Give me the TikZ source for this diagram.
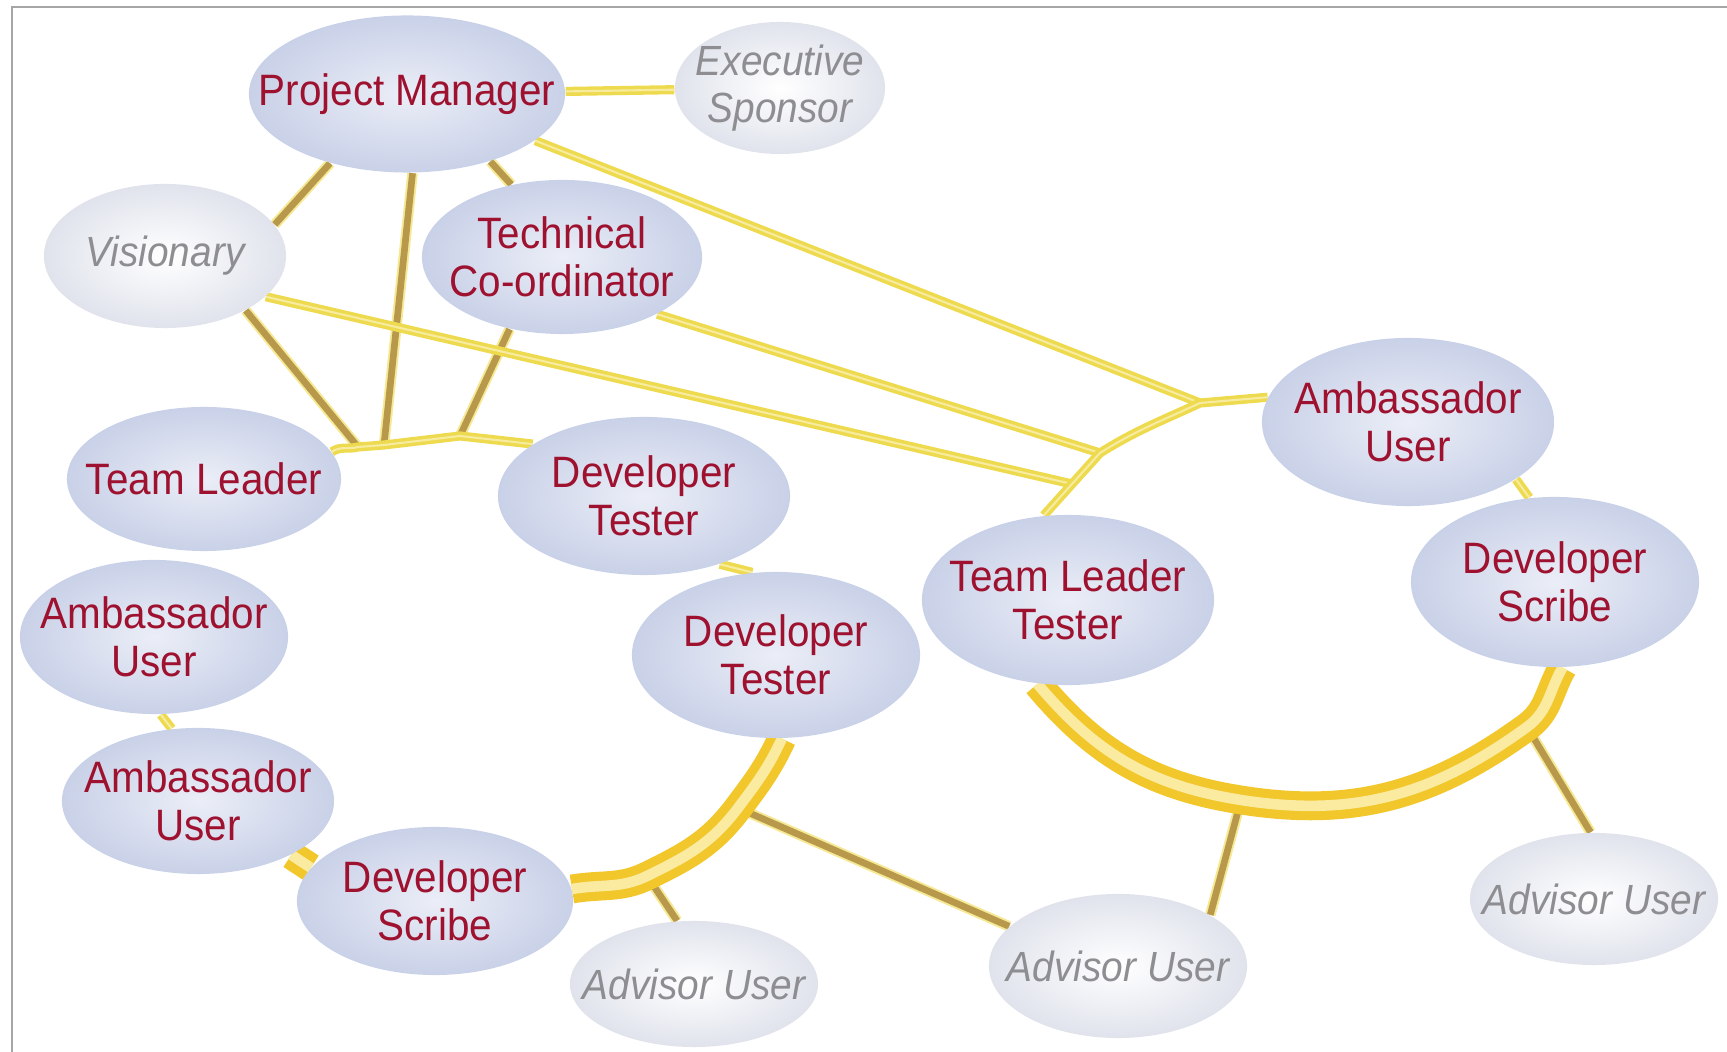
\documentclass[tikz,border=0pt]{standalone}
\usepackage{fontspec}
\setmainfont{Liberation Sans}[FakeStretch=0.92]
\usetikzlibrary{shapes.geometric,backgrounds}

\definecolor{rolered}{HTML}{9E1230}
\definecolor{rolegray}{HTML}{8E8E92}
\definecolor{bubblein}{HTML}{EBEEF7}
\definecolor{bubbleout}{HTML}{C9D1E8}
\definecolor{paleout}{HTML}{E0E3EC}
\definecolor{linkyellow}{HTML}{EEDA4E}
\definecolor{linktan}{HTML}{B8984A}
\definecolor{ringgold}{HTML}{F2C72C}
\definecolor{ringlight}{HTML}{FBEBA0}

\tikzset{
  bubble/.style 2 args={ellipse, minimum width=#1cm, minimum height=#2cm, inner sep=0pt,
    shading=radial, inner color=bubblein, outer color=bubbleout},
  palebubble/.style 2 args={bubble={#1}{#2}, inner color=white, outer color=paleout},
  roletext/.style={text=rolered, align=center, font=\fontsize{12.5}{13.5}\selectfont},
  guesttext/.style={text=rolegray, align=center, font=\itshape\fontsize{12}{13.5}\selectfont},
  link/.style={draw=linkyellow, line width=1pt, double=linkyellow!55, double distance=0.6pt},
  spoke/.style={draw=linktan, line width=1.9pt, preaction={draw=linkyellow!60, line width=3pt}},
  ring/.style={draw=ringgold, line width=2.6pt, double=ringlight, double distance=3pt},
}

\begin{document}
\begin{tikzpicture}[x=0.01cm, y=0.01cm]
  \useasboundingbox (0,0) rectangle (1727,1052);
  \draw[gray!70, line width=0.6pt] (12,0) -- (12,1045) -- (1727,1045);

  % roles
  \node[bubble={3.16}{1.57}, label={[roletext, name=pm-t]center:Project Manager}] (pm) at (407,958) {};
  \node[palebubble={2.10}{1.32}, label={[guesttext, name=exs-t]center:Executive\\Sponsor}] (exs) at (780,964) {};
  \node[palebubble={2.42}{1.44}, label={[guesttext, name=vis-t]center:Visionary}] (vis) at (165,796) {};
  \node[bubble={2.80}{1.54}, label={[roletext, name=tco-t]center:Technical\\Co-ordinator}] (tco) at (562,795) {};
  \node[bubble={2.74}{1.44}, label={[roletext, name=tll-t]center:Team Leader}] (tll) at (204,573) {};
  \node[bubble={2.92}{1.58}, label={[roletext, name=dt1-t]center:Developer\\Tester}] (dt1) at (644,556) {};
  \node[bubble={2.68}{1.54}, label={[roletext, name=au1-t]center:Ambassador\\User}] (au1) at (154,415) {};
  \node[bubble={2.88}{1.66}, label={[roletext, name=dt2-t]center:Developer\\Tester}] (dt2) at (776,397) {};
  \node[bubble={2.72}{1.46}, label={[roletext, name=au2-t]center:Ambassador\\User}] (au2) at (198,251) {};
  \node[bubble={2.76}{1.48}, label={[roletext, name=ds1-t]center:Developer\\Scribe}] (ds1) at (435,151) {};
  \node[palebubble={2.48}{1.26}, label={[guesttext, name=ad1-t]center:Advisor User}] (ad1) at (694,68) {};
  \node[palebubble={2.58}{1.44}, label={[guesttext, name=ad2-t]center:Advisor User}] (ad2) at (1118,86) {};
  \node[bubble={2.92}{1.70}, label={[roletext, name=tlt-t]center:Team Leader\\Tester}] (tlt) at (1068,452) {};
  \node[bubble={2.92}{1.68}, label={[roletext, name=au3-t]center:Ambassador\\User}] (au3) at (1408,630) {};
  \node[bubble={2.88}{1.70}, label={[roletext, name=ds2-t]center:Developer\\Scribe}] (ds2) at (1555,470) {};
  \node[palebubble={2.48}{1.32}, label={[guesttext, name=ad3-t]center:Advisor User}] (ad3) at (1594,153) {};

  % joints on the rings
  \coordinate (ringA) at (358,605);
  \coordinate (hubL) at (384,607);
  \coordinate (ringB) at (460,616);
  \coordinate (ringD) at (1072,568);
  \coordinate (ringC) at (1100,599);
  \coordinate (hubR) at (1200,649);
  \coordinate (arcA) at (647,176);
  \coordinate (arcB) at (738,244);
  \coordinate (arcC) at (1241,252);
  \coordinate (arcD) at (1527,325);

  \begin{scope}[on background layer]
    \draw[link] (pm) -- (exs);
    \draw[spoke] (pm.222) -- (vis.16);
    \draw[spoke] (pm.321) -- (tco.125);
    \draw[spoke] (pm.274) -- (hubL);
    \draw[spoke] (vis.326) -- (ringA);
    \draw[spoke] (tco.234) -- (ringB);
    \draw[link] (pm.340) -- (hubR);
    \draw[link] (tco.329) -- (ringC);
    \draw[link] (vis.338) -- (ringD);
    \draw[link] (tll.12) to[out=35,in=195] (ringA) -- (hubL) -- (ringB) -- (dt1.155);
    \draw[link] (dt1.318) -- (dt2.106);
    \draw[link] (au1.275) -- (au2.110);
    \draw[spoke] (arcA) -- (ad1.105);
    \draw[spoke] (arcB) -- (ad2.160);
    \draw[spoke] (arcC) -- (ad2.29);
    \draw[spoke] (arcD) -- (ad3.93);
    \draw[ring] (au2.330) -- (ds1.165);
    \draw[ring] (dt2.274) to[out=245,in=53] (arcB) to[out=233,in=26] (arcA) to[out=206,in=10] (ds1.5);
    \draw[link] (tlt.106) -- (ringD) -- (ringC) to[out=32,in=205] (hubR) -- (au3.170);
    \draw[link] (au3.332) -- (ds2.107);
    \draw[ring] (ds2.275) to[out=240,in=36] (arcD) to[out=216,in=-9] (arcC) to[out=171,in=-50] (tlt.250);
  \end{scope}
\end{tikzpicture}
\end{document}
